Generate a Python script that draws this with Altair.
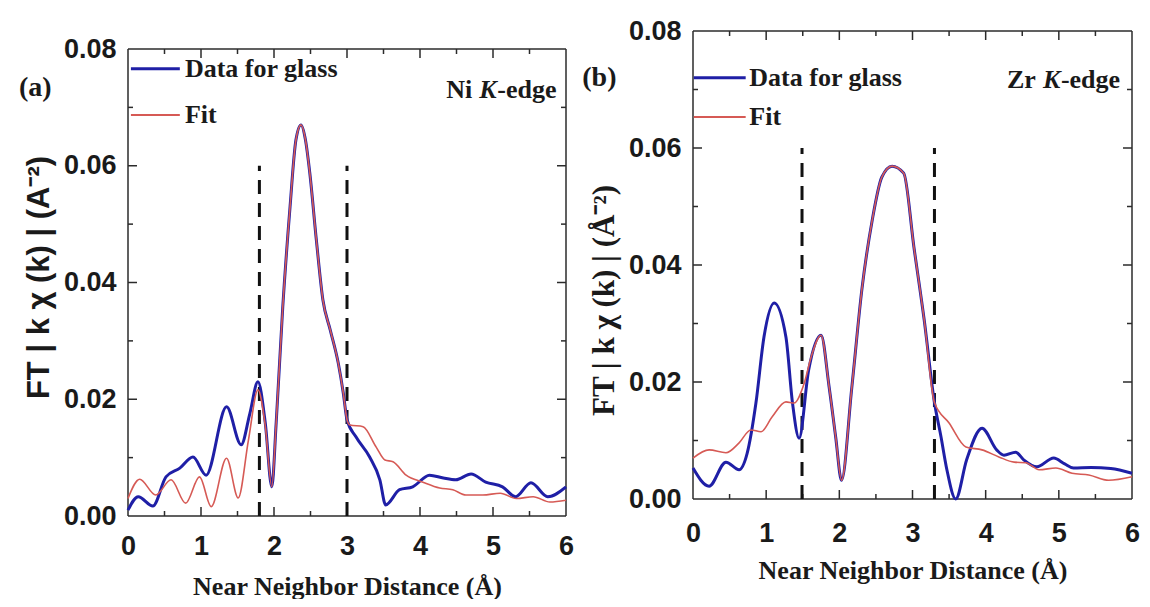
import altair as alt
import pandas as pd

# ---------------- data ----------------
x_major_ticks = [0, 1, 2, 3, 4, 5, 6]
x_minor_ticks = [0.5, 1.5, 2.5, 3.5, 4.5, 5.5]
y_major_ticks = [0.0, 0.02, 0.04, 0.06, 0.08]
y_minor_ticks = [0.01, 0.03, 0.05, 0.07]
R_MAX = 6.0
Y_TOP = 0.08

# (a) Ni K-edge
ni_data_r = [0.00, 0.14, 0.34, 0.52, 0.71, 0.89, 1.07, 1.35, 1.55, 1.67,
             1.78, 1.88, 1.97, 2.03, 2.12, 2.22, 2.30, 2.37, 2.43, 2.49,
             2.58, 2.67, 2.77, 2.88, 2.95, 3.00, 3.12, 3.31, 3.45, 3.53,
             3.72, 3.90, 4.13, 4.32, 4.49, 4.70, 4.90, 5.13, 5.31, 5.52,
             5.75, 6.00]
ni_data_v = [0.0010, 0.0033, 0.0017, 0.0067, 0.0082, 0.0101, 0.0070, 0.0187, 0.0122, 0.0176,
             0.0230, 0.0160, 0.0050, 0.0160, 0.0358, 0.0530, 0.0644, 0.0670, 0.0645, 0.0588,
             0.0473, 0.0370, 0.0319, 0.0262, 0.0210, 0.0165, 0.0136, 0.0101, 0.0062, 0.0019,
             0.0045, 0.0050, 0.0070, 0.0065, 0.0062, 0.0072, 0.0058, 0.0050, 0.0033, 0.0057,
             0.0033, 0.0050]
ni_fit_r = [0.00, 0.16, 0.38, 0.59, 0.79, 0.98, 1.14, 1.35, 1.51, 1.65,
            1.78, 1.88, 1.97, 2.03, 2.12, 2.22, 2.30, 2.37, 2.43, 2.49,
            2.58, 2.67, 2.77, 2.88, 2.95, 3.00, 3.04, 3.22, 3.40, 3.52,
            3.63, 3.81, 4.04, 4.27, 4.45, 4.63, 4.86, 5.10, 5.32, 5.55,
            5.78, 6.00]
ni_fit_v = [0.0030, 0.0063, 0.0036, 0.0062, 0.0022, 0.0067, 0.0016, 0.0099, 0.0031, 0.0130,
            0.0216, 0.0155, 0.0050, 0.0160, 0.0358, 0.0530, 0.0644, 0.0670, 0.0645, 0.0588,
            0.0473, 0.0370, 0.0319, 0.0262, 0.0210, 0.0165, 0.0156, 0.0153, 0.0118, 0.0096,
            0.0093, 0.0070, 0.0058, 0.0048, 0.0045, 0.0036, 0.0036, 0.0039, 0.0030, 0.0033,
            0.0024, 0.0027]
ni_cuts = [1.8, 3.0]

# (b) Zr K-edge
zr_data_r = [0.00, 0.22, 0.45, 0.63, 0.74, 0.86, 0.97, 1.11, 1.27, 1.36,
             1.45, 1.58, 1.75, 1.86, 1.95, 2.03, 2.17, 2.31, 2.45, 2.58,
             2.72, 2.88, 3.02, 3.16, 3.30, 3.39, 3.47, 3.59, 3.74, 3.95,
             4.15, 4.25, 4.41, 4.52, 4.70, 4.93, 5.08, 5.20, 5.44, 5.71, 6.00]
zr_data_v = [0.0053, 0.0022, 0.0063, 0.0050, 0.0078, 0.0164, 0.0277, 0.0335, 0.0277, 0.0164,
             0.0104, 0.0220, 0.0280, 0.0192, 0.0106, 0.0032, 0.0190, 0.0360, 0.0477, 0.0550,
             0.0569, 0.0557, 0.0430, 0.0306, 0.0165, 0.0106, 0.0050, 0.0000, 0.0067, 0.0121,
             0.0084, 0.0075, 0.0080, 0.0067, 0.0055, 0.0070, 0.0060, 0.0053, 0.0054, 0.0052, 0.0044]
zr_fit_r = [0.00, 0.22, 0.45, 0.63, 0.79, 0.93, 1.08, 1.27, 1.38, 1.52,
            1.62, 1.75, 1.86, 1.95, 2.03, 2.17, 2.31, 2.45, 2.58, 2.72,
            2.88, 3.02, 3.16, 3.30, 3.50, 3.73, 3.95, 4.18, 4.39, 4.55,
            4.73, 4.96, 5.18, 5.41, 5.68, 6.00]
zr_fit_v = [0.0070, 0.0084, 0.0079, 0.0096, 0.0118, 0.0115, 0.0140, 0.0166, 0.0164, 0.0198,
            0.0245, 0.0280, 0.0192, 0.0106, 0.0032, 0.0190, 0.0360, 0.0477, 0.0550, 0.0569,
            0.0557, 0.0430, 0.0306, 0.0165, 0.0130, 0.0089, 0.0084, 0.0072, 0.0063, 0.0062,
            0.0050, 0.0053, 0.0044, 0.0041, 0.0032, 0.0038]
zr_cuts = [1.49, 3.3]

series_names = ["Data for glass", "Fit"]

# ---------------- styling ----------------
BLUE = "#1f1fa6"
RED = "#d65a55"
INK = "#1a1a1a"
SANS = "Liberation Sans Narrow, Arial Narrow, Liberation Sans, Arial"
SERIF = "Liberation Serif, Times New Roman"


def panel(data_r, data_v, fit_r, fit_v, cuts, width, plot_h, total_h,
          tag, tag_xy, elem, elem_xy, elem_dx, legend_xy, ytitle, ytitle_font,
          ytitle_y, xtitle_y, xlabel_pad):
    y_dom_top = Y_TOP * total_h / plot_h
    kx = width / R_MAX          # px per Å
    ky = plot_h / Y_TOP         # px per unit
    xs = alt.Scale(domain=[0, R_MAX], nice=False, zero=False)
    ys = alt.Scale(domain=[0, y_dom_top], nice=False, zero=False)
    xaxis = alt.Axis(values=x_major_ticks, format="d", ticks=False, domain=False, grid=False,
                     labelFont=SANS, labelFontSize=27, labelFontWeight="bold", labelColor=INK,
                     labelPadding=xlabel_pad, labelFlush=False, labelOverlap=False,
                     title="Near Neighbor Distance (Å)", titleFont=SERIF, titleFontSize=26,
                     titleFontWeight="bold", titleColor=INK, titleX=width / 2, titleY=xtitle_y,
                     titleBaseline="middle", titleAlign="center")
    yaxis = alt.Axis(values=y_major_ticks, format=".2f", ticks=False, domain=False, grid=False,
                     labelFont=SANS, labelFontSize=27, labelFontWeight="bold", labelColor=INK,
                     labelPadding=12, labelOverlap=False,
                     title=ytitle, titleFont=ytitle_font, titleFontSize=31, titleFontWeight="bold",
                     titleColor=INK, titleAngle=270, titleX=-89, titleY=ytitle_y,
                     titleBaseline="middle", titleAlign="center")

    def X(f="x"):
        return alt.X(f"{f}:Q", scale=xs, axis=xaxis)

    def Y(f="y"):
        return alt.Y(f"{f}:Q", scale=ys, axis=yaxis)

    # frame and inward ticks: vertical segments and horizontal segments
    vrows = [dict(x=0, y=0, y2=Y_TOP), dict(x=R_MAX, y=0, y2=Y_TOP)]
    hrows = [dict(y=0, x=0, x2=R_MAX), dict(y=Y_TOP, x=0, x2=R_MAX)]
    for vals, L in ((x_major_ticks[1:-1], 9), (x_minor_ticks, 5)):
        for v in vals:
            vrows.append(dict(x=v, y=0, y2=L / ky))
            vrows.append(dict(x=v, y=Y_TOP, y2=Y_TOP - L / ky))
    for vals, L in ((y_major_ticks[1:-1], 9), (y_minor_ticks, 5)):
        for v in vals:
            hrows.append(dict(y=v, x=0, x2=L / kx))
            hrows.append(dict(y=v, x=R_MAX, x2=R_MAX - L / kx))
    vframe = alt.Chart(pd.DataFrame(vrows)).mark_rule(color="#2b2b2b", strokeWidth=1.5).encode(
        x=X(), y=Y(), y2="y2:Q")
    hframe = alt.Chart(pd.DataFrame(hrows)).mark_rule(color="#2b2b2b", strokeWidth=1.5).encode(
        x=X(), x2="x2:Q", y=Y())

    cut_df = pd.DataFrame({"x": cuts, "y": [0.0] * len(cuts), "y2": [0.06] * len(cuts)})
    cut = alt.Chart(cut_df).mark_rule(color="#111111", strokeWidth=3, strokeDash=[14, 9]).encode(
        x=X(), y=Y(), y2="y2:Q")

    data_line = alt.Chart(pd.DataFrame({"x": data_r, "y": data_v})).mark_line(
        color=BLUE, strokeWidth=3, interpolate="monotone").encode(x=X(), y=Y())
    fit_line = alt.Chart(pd.DataFrame({"x": fit_r, "y": fit_v})).mark_line(
        color=RED, strokeWidth=1.6, interpolate="monotone").encode(x=X(), y=Y())

    (lx0, lx1, ltx, ly1, ly2) = legend_xy
    leg_blue = alt.Chart(pd.DataFrame({"x": [lx0], "x2": [lx1], "y": [ly1]})).mark_rule(
        color=BLUE, strokeWidth=3).encode(x=X(), x2="x2:Q", y=Y())
    leg_red = alt.Chart(pd.DataFrame({"x": [lx0], "x2": [lx1], "y": [ly2]})).mark_rule(
        color=RED, strokeWidth=2).encode(x=X(), x2="x2:Q", y=Y())
    leg_text = alt.Chart(pd.DataFrame({"x": [ltx, ltx], "y": [ly1, ly2], "t": series_names})).mark_text(
        align="left", baseline="middle", font=SERIF, fontSize=26, fontWeight="bold", color=INK
    ).encode(x=X(), y=Y(), text="t:N")

    ex, ey = elem_xy
    parts = []
    for txt, dx, style in zip(elem, elem_dx, ["normal", "italic", "normal"]):
        parts.append(alt.Chart(pd.DataFrame({"x": [ex], "y": [ey], "t": [txt]})).mark_text(
            align="left", baseline="middle", font=SERIF, fontSize=26, fontWeight="bold",
            fontStyle=style, color=INK, dx=dx).encode(x=X(), y=Y(), text="t:N"))

    tag_chart = alt.Chart(pd.DataFrame({"x": [tag_xy[0]], "y": [tag_xy[1]], "t": [tag]})).mark_text(
        align="center", baseline="middle", font=SERIF, fontSize=28, fontWeight="bold", color=INK
    ).encode(x=X(), y=Y(), text="t:N")

    return alt.layer(vframe, hframe, cut, data_line, fit_line, leg_blue, leg_red, leg_text,
                     *parts, tag_chart).properties(width=width, height=total_h)


left = panel(ni_data_r, ni_data_v, ni_fit_r, ni_fit_v, ni_cuts,
             width=438, plot_h=467, total_h=485,
             tag="(a)", tag_xy=(-1.27, 0.0733),
             elem=["Ni", "K", "-edge"], elem_xy=(4.36, 0.0730), elem_dx=[0, 33, 51],
             legend_xy=(0.04, 0.71, 0.78, 0.0766, 0.0687),
             ytitle="FT | k χ (k) |  (A⁻²)", ytitle_font=SANS, ytitle_y=246,
             xtitle_y=70, xlabel_pad=17)

right = panel(zr_data_r, zr_data_v, zr_fit_r, zr_fit_v, zr_cuts,
              width=439, plot_h=468, total_h=468,
              tag="(b)", tag_xy=(-1.28, 0.0720),
              elem=["Zr", "K", "-edge"], elem_xy=(4.29, 0.0716), elem_dx=[0, 36, 54],
              legend_xy=(0.01, 0.72, 0.77, 0.0720, 0.0653),
              ytitle="FT | k χ (k) | (Å⁻²)", ytitle_font=SERIF, ytitle_y=269,
              xtitle_y=71, xlabel_pad=21)

chart = alt.hconcat(left, right, spacing=8).properties(
    padding={"left": 18, "top": 17, "right": 5, "bottom": 0},
    background="white",
).configure_view(stroke=None)

chart.save("out.html", embed_options={"renderer": "svg", "actions": False})
